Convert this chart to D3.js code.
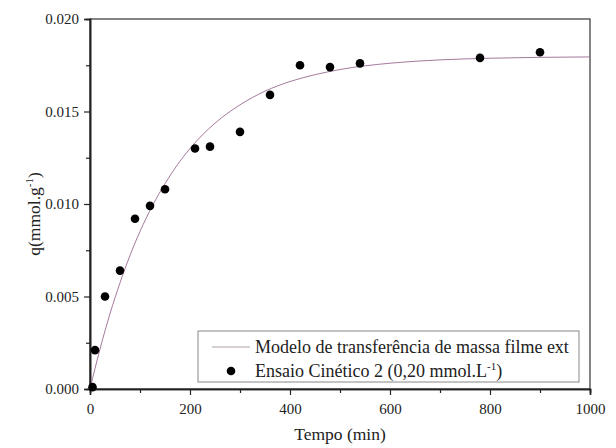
<!DOCTYPE html>
<html>
<head>
<meta charset="utf-8">
<script src="https://cdn.jsdelivr.net/npm/d3@7"></script>
<style>
  body { margin: 0; background: #fff; }
  text { font-family: 'Liberation Serif', 'Times New Roman', serif; fill: #222; }
</style>
</head>
<body>
<svg id="chart"></svg>
<script>
// measured points: Ensaio Cinético 2
const tempo = [5, 10, 30, 60, 90, 120, 150, 210, 240, 300, 360, 420, 480, 540, 780, 900];
const q = [0.0001, 0.0021, 0.0050, 0.0064, 0.0092, 0.0099, 0.0108, 0.0130, 0.0131, 0.0139, 0.0159, 0.0175, 0.0174, 0.0176, 0.0179, 0.0182];

// model curve
const modelT = [0, 20, 40, 60, 80, 100, 125, 150, 175, 200, 250, 300, 350, 400, 450, 500, 600, 700, 800, 1000];
const modelQ = [0.00000, 0.00216, 0.00407, 0.00574, 0.00722, 0.00852, 0.00991, 0.01110, 0.01213, 0.01300, 0.01437, 0.01536, 0.01610, 0.01662, 0.01699, 0.01727, 0.01761, 0.01779, 0.01788, 0.01795];

const xMajor = [0, 200, 400, 600, 800, 1000];
const xMinor = [100, 300, 500, 700, 900];
const yMajor = [0, 0.005, 0.010, 0.015, 0.020];
const yMinor = [0.0025, 0.0075, 0.0125, 0.0175];

const width = 616;
const height = 448;
const plot = { left: 90, right: 590, top: 19, bottom: 389 };

const svg = d3.select('#chart')
  .attr('width', width)
  .attr('height', height);

const x = d3.scaleLinear()
  .domain([0, 1000])
  .range([plot.left, plot.right]);

const y = d3.scaleLinear()
  .domain([0, 0.020])
  .range([plot.bottom, plot.top]);

// frame
svg.append('rect')
  .attr('x', plot.left)
  .attr('y', plot.top)
  .attr('width', plot.right - plot.left)
  .attr('height', plot.bottom - plot.top)
  .style('fill', 'none')
  .style('stroke', '#333')
  .style('stroke-width', 1.2);

// axes
svg.append('g')
  .attr('transform', `translate(0,${plot.bottom})`)
  .call(d3.axisBottom(x).tickValues(xMajor).tickSize(6).tickPadding(8).tickFormat(d3.format('d')));

svg.append('g')
  .attr('transform', `translate(0,${plot.bottom})`)
  .call(d3.axisBottom(x).tickValues(xMinor).tickSize(4).tickFormat(''));

svg.append('g')
  .attr('transform', `translate(${plot.left},0)`)
  .call(d3.axisLeft(y).tickValues(yMajor).tickSize(6).tickPadding(5).tickFormat(d3.format('.3f')));

svg.append('g')
  .attr('transform', `translate(${plot.left},0)`)
  .call(d3.axisLeft(y).tickValues(yMinor).tickSize(4).tickFormat(''));

svg.selectAll('.domain').style('stroke', '#222').style('stroke-width', 1.6);
svg.selectAll('.tick line').style('stroke', '#222').style('stroke-width', 1.2);
svg.selectAll('.tick text')
  .style('font-family', "'Liberation Serif', serif")
  .style('font-size', '15px')
  .style('fill', '#222');

// axis titles
svg.append('text')
  .attr('x', (plot.left + plot.right) / 2)
  .attr('y', 440)
  .attr('text-anchor', 'middle')
  .style('font-size', '17.5px')
  .text('Tempo (min)');

const yTitle = svg.append('text')
  .attr('transform', 'translate(40,214) rotate(-90)')
  .attr('text-anchor', 'middle')
  .style('font-size', '17.5px');
yTitle.append('tspan').text('q(mmol.g');
yTitle.append('tspan').attr('dy', -7).style('font-size', '11px').text('-1');
yTitle.append('tspan').attr('dy', 7).text(')');

// model line
const line = d3.line()
  .x((d, i) => x(modelT[i]))
  .y(d => y(d))
  .curve(d3.curveMonotoneX);

svg.append('path')
  .datum(modelQ)
  .attr('d', line)
  .style('fill', 'none')
  .style('stroke', '#9a6a92')
  .style('stroke-width', 0.9);

// points
svg.selectAll('circle.pt')
  .data(q)
  .enter()
  .append('circle')
  .attr('class', 'pt')
  .attr('cx', (d, i) => x(tempo[i]))
  .attr('cy', d => y(d))
  .attr('r', 4.3)
  .style('fill', '#000');

// legend
const legend = svg.append('g');
legend.append('rect')
  .attr('x', 198)
  .attr('y', 331)
  .attr('width', 381)
  .attr('height', 51)
  .style('fill', '#fff')
  .style('stroke', '#888')
  .style('stroke-width', 1);

legend.append('line')
  .attr('x1', 212)
  .attr('x2', 250)
  .attr('y1', 347)
  .attr('y2', 347)
  .style('stroke', '#b0a0ac')
  .style('stroke-width', 1);

legend.append('text')
  .attr('x', 255)
  .attr('y', 353)
  .style('font-size', '18px')
  .text('Modelo de transferência de massa filme ext');

legend.append('circle')
  .attr('cx', 231)
  .attr('cy', 371)
  .attr('r', 4.3)
  .style('fill', '#000');

const leg2 = legend.append('text')
  .attr('x', 255)
  .attr('y', 377)
  .style('font-size', '18px');
leg2.append('tspan').text('Ensaio Cinético 2 (0,20 mmol.L');
leg2.append('tspan').attr('dy', -7).style('font-size', '11px').text('-1');
leg2.append('tspan').attr('dy', 7).text(')');
</script>
</body>
</html>
